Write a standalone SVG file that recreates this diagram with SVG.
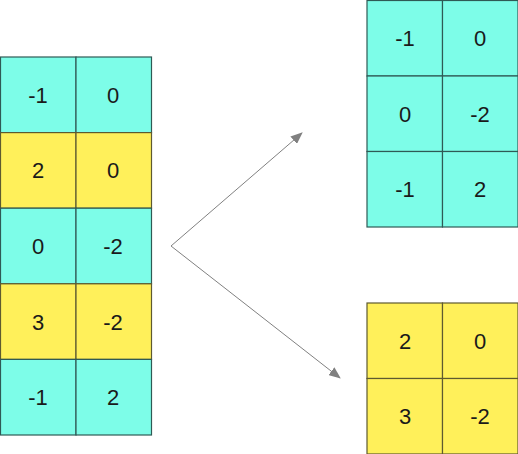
<svg xmlns="http://www.w3.org/2000/svg" width="518" height="454" viewBox="0 0 518 454">
<defs>
<style>
.c{fill:#7dfde8;stroke:#2f5a55;stroke-width:1.2}
.y{fill:#fff05a;stroke:#5e5a30;stroke-width:1.2}
.t{font-family:"Liberation Sans",Arial,sans-serif;font-size:22px;fill:#1a1a1a;text-anchor:middle;dominant-baseline:central}
.e{fill:none;stroke:#808080;stroke-width:1}
</style>
<marker id="ah" viewBox="0 0 12 10" refX="11" refY="5" markerWidth="12" markerHeight="10" markerUnits="userSpaceOnUse" orient="auto">
<path d="M0,0 L12,5 L0,10 Z" fill="#808080"/>
</marker>
</defs>
<g id="left">
<rect class="c" x="0.5" y="57" width="75.5" height="75.6"/><rect class="c" x="76" y="57" width="75.5" height="75.6"/>
<text class="t" x="38" y="95.3">-1</text><text class="t" x="113" y="95.3">0</text>
<rect class="y" x="0.5" y="132.6" width="75.5" height="75.6"/><rect class="y" x="76" y="132.6" width="75.5" height="75.6"/>
<text class="t" x="38" y="170.9">2</text><text class="t" x="113" y="170.9">0</text>
<rect class="c" x="0.5" y="208.2" width="75.5" height="75.6"/><rect class="c" x="76" y="208.2" width="75.5" height="75.6"/>
<text class="t" x="38" y="246.5">0</text><text class="t" x="113" y="246.5">-2</text>
<rect class="y" x="0.5" y="283.8" width="75.5" height="75.6"/><rect class="y" x="76" y="283.8" width="75.5" height="75.6"/>
<text class="t" x="38" y="322.1">3</text><text class="t" x="113" y="322.1">-2</text>
<rect class="c" x="0.5" y="359.4" width="75.5" height="75.6"/><rect class="c" x="76" y="359.4" width="75.5" height="75.6"/>
<text class="t" x="38" y="397.7">-1</text><text class="t" x="113" y="397.7">2</text>
</g>
<g id="topright">
<rect class="c" x="367" y="0.5" width="75.5" height="75.5"/><rect class="c" x="442.5" y="0.5" width="75.5" height="75.5"/>
<text class="t" x="405" y="38.5">-1</text><text class="t" x="480" y="38.5">0</text>
<rect class="c" x="367" y="76" width="75.5" height="75.5"/><rect class="c" x="442.5" y="76" width="75.5" height="75.5"/>
<text class="t" x="405" y="114">0</text><text class="t" x="480" y="114">-2</text>
<rect class="c" x="367" y="151.5" width="75.5" height="75.5"/><rect class="c" x="442.5" y="151.5" width="75.5" height="75.5"/>
<text class="t" x="405" y="189.5">-1</text><text class="t" x="480" y="189.5">2</text>
</g>
<g id="bottomright">
<rect class="y" x="367" y="303" width="75.5" height="75.5"/><rect class="y" x="442.5" y="303" width="75.5" height="75.5"/>
<text class="t" x="405" y="341">2</text><text class="t" x="480" y="341">0</text>
<rect class="y" x="367" y="378.5" width="75.5" height="75.5"/><rect class="y" x="442.5" y="378.5" width="75.5" height="75.5"/>
<text class="t" x="405" y="416.5">3</text><text class="t" x="480" y="416.5">-2</text>
</g>
<g id="connectors">
<path class="e" d="M171,246 L302,133" marker-end="url(#ah)"/>
<path class="e" d="M171,246 L340,378" marker-end="url(#ah)"/>
</g>
</svg>
